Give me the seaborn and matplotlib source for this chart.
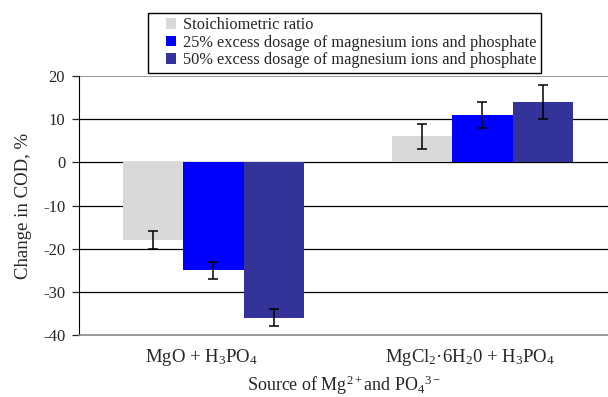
import pandas as pd
import matplotlib
matplotlib.use("Agg")
import matplotlib.pyplot as plt
import matplotlib.transforms as mtransforms
from matplotlib.legend_handler import HandlerPatch
from matplotlib.patches import Rectangle
import seaborn as sns

sources = ["MgO + H$_3$PO$_4$", "MgCl$_2$·6H$_2$0 + H$_3$PO$_4$"]
dosages = [
    "Stoichiometric ratio",
    "25% excess dosage of magnesium ions and phosphate",
    "50% excess dosage of magnesium ions and phosphate",
]
stoich = [-18, 6]
excess25 = [-25, 11]
excess50 = [-36, 14]
stoich_err = [2, 3]
excess25_err = [2, 3]
excess50_err = [2, 4]
colors = ["#d9d9d9", "#0000ff", "#333399"]

rows = []
for dose, vals, errs in zip(dosages, [stoich, excess25, excess50],
                            [stoich_err, excess25_err, excess50_err]):
    for src, v, e in zip(sources, vals, errs):
        rows.append({"source": src, "dosage": dose, "change": v, "err": e})
df = pd.DataFrame(rows)

sns.set_style("white")
plt.rcParams["font.family"] = ["Liberation Serif", "DejaVu Serif"]
plt.rcParams["mathtext.fontset"] = "custom"
plt.rcParams["mathtext.rm"] = "Liberation Serif"
plt.rcParams["mathtext.it"] = "Liberation Serif:italic"
plt.rcParams["mathtext.default"] = "regular"
plt.rcParams["axes.unicode_minus"] = False

fig = plt.figure(figsize=(6.08, 3.97), dpi=100)
ax = fig.add_axes([0.13, 0.156, 0.87, 0.6524])

ax.set_ylim(-40, 20)
ax.set_yticks(range(-40, 21, 10))
for y in range(-30, 11, 10):
    ax.axhline(y, color="black", linewidth=0.9, zorder=0)
ax.axhline(20, color="#888888", linewidth=1.2, zorder=0)

sns.barplot(
    data=df, x="source", y="change", hue="dosage",
    hue_order=dosages, order=sources, palette=colors,
    width=0.675, errorbar=None, saturation=1, linewidth=0,
    edgecolor="none", ax=ax, zorder=2,
)

# error bars on the bar centres
bars = ax.patches[:len(dosages) * len(sources)]
for i, dose in enumerate(dosages):
    for j, src in enumerate(sources):
        p = bars[i * len(sources) + j]
        row = df[(df.dosage == dose) & (df.source == src)].iloc[0]
        ax.errorbar(p.get_x() + p.get_width() / 2, row.change, yerr=row.err,
                    fmt="none", ecolor="black", elinewidth=1.1, capsize=3.4,
                    capthick=1.1, zorder=3)

ax.set_xlim(-0.5, 1.467)
ax.spines["top"].set_visible(False)
ax.spines["right"].set_visible(False)
ax.spines["left"].set_color("black")
ax.spines["bottom"].set_color("#888888")
ax.spines["bottom"].set_linewidth(1.2)
ax.tick_params(axis="y", which="both", left=True, length=5, width=0.9,
               labelsize=12, pad=5)
ax.tick_params(axis="x", bottom=False, labelsize=13.5, pad=5)
shift = mtransforms.ScaledTranslation(-0.12, 0, fig.dpi_scale_trans)
for lab in ax.get_xticklabels():
    lab.set_transform(lab.get_transform() + shift)
ax.set_ylabel("Change in COD, %", fontsize=13.5, labelpad=8)
ax.set_xlabel("Source of Mg$^{2+}$and PO$_4$$^{3-}$", fontsize=13, labelpad=4)


def square_right(legend, orig_handle, xdescent, ydescent, width, height, fontsize):
    side = height * 1.0
    return Rectangle((width - side - xdescent, -ydescent + (height - side) / 2),
                     side, side)


handles, labels = ax.get_legend_handles_labels()
ax.get_legend().remove()
fig.legend(handles, labels, loc="upper left", bbox_to_anchor=(0.243, 0.967),
           fontsize=11.8, frameon=True, fancybox=False, edgecolor="black",
           framealpha=1, handlelength=1.5, handleheight=0.62,
           handletextpad=0.42, labelspacing=0.1, borderpad=0.25,
           borderaxespad=0,
           handler_map={Rectangle: HandlerPatch(patch_func=square_right)})

fig.savefig("out.png", dpi=100)
